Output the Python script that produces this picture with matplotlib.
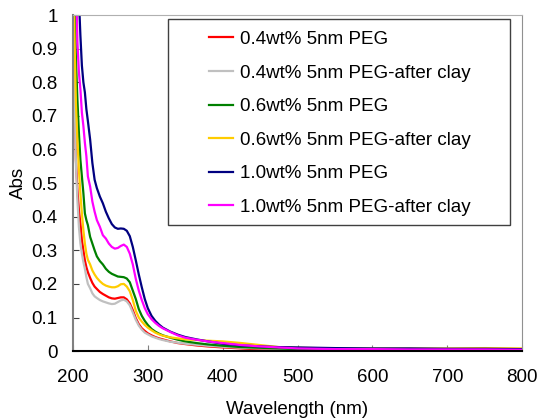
import numpy as np
import matplotlib.pyplot as plt
from matplotlib.patches import Rectangle
from matplotlib.ticker import FuncFormatter

plt.rcParams['font.family'] = ['Liberation Sans', 'DejaVu Sans']

# wavelength grid (nm)
wavelength = [200, 202, 204, 206, 208, 210, 212, 214, 216, 218, 220, 223, 226, 229,
              232, 236, 240, 244, 248, 252, 256, 260, 264, 268, 272, 276, 280, 284,
              288, 292, 296, 300, 305, 310, 315, 320, 330, 340, 350, 365, 380, 400,
              425, 450, 475, 500, 550, 600, 650, 700, 750, 800]

peg_04 = [1.3, 0.82, 0.57, 0.48, 0.42, 0.38, 0.33, 0.3, 0.27, 0.25, 0.235, 0.218,
          0.203, 0.192, 0.185, 0.176, 0.17, 0.165, 0.16, 0.157, 0.156, 0.158, 0.16,
          0.16, 0.154, 0.142, 0.122, 0.098, 0.08, 0.068, 0.06, 0.053, 0.047, 0.042,
          0.038, 0.035, 0.029, 0.024, 0.021, 0.017, 0.014, 0.011, 0.008, 0.005,
          0.004, 0.003, 0.003, 0.003, 0.003, 0.002, 0.002, 0.002]
peg_04_clay = [1.25, 0.8, 0.56, 0.45, 0.37, 0.32, 0.29, 0.265, 0.245, 0.22, 0.2,
               0.187, 0.172, 0.163, 0.158, 0.152, 0.148, 0.145, 0.142, 0.14, 0.141,
               0.146, 0.151, 0.153, 0.148, 0.136, 0.115, 0.093, 0.076, 0.064, 0.055,
               0.05, 0.044, 0.04, 0.036, 0.033, 0.028, 0.025, 0.022, 0.019, 0.016,
               0.013, 0.01, 0.008, 0.007, 0.006, 0.005, 0.005, 0.005, 0.004, 0.004,
               0.004]
peg_06 = [1.5, 1.1, 0.87, 0.75, 0.65, 0.57, 0.52, 0.47, 0.41, 0.39, 0.375, 0.34,
          0.32, 0.3, 0.282, 0.268, 0.258, 0.245, 0.236, 0.23, 0.226, 0.222, 0.221,
          0.22, 0.216, 0.205, 0.18, 0.155, 0.125, 0.105, 0.09, 0.078, 0.066, 0.058,
          0.052, 0.047, 0.04, 0.034, 0.029, 0.024, 0.02, 0.016, 0.012, 0.01, 0.008,
          0.006, 0.005, 0.005, 0.004, 0.004, 0.004, 0.004]
peg_06_clay = [1.4, 0.95, 0.74, 0.63, 0.54, 0.47, 0.41, 0.36, 0.32, 0.29, 0.272,
               0.258, 0.24, 0.228, 0.218, 0.208, 0.2, 0.195, 0.192, 0.19, 0.19, 0.193,
               0.199, 0.2, 0.192, 0.178, 0.152, 0.12, 0.1, 0.088, 0.078, 0.07, 0.062,
               0.055, 0.05, 0.046, 0.041, 0.038, 0.035, 0.033, 0.031, 0.029, 0.024,
               0.018, 0.012, 0.01, 0.008, 0.008, 0.008, 0.008, 0.009, 0.008]
peg_10 = [1.8, 1.5, 1.3, 1.15, 1.05, 0.94, 0.85, 0.8, 0.77, 0.72, 0.685, 0.63, 0.56,
          0.51, 0.485, 0.46, 0.44, 0.415, 0.395, 0.378, 0.368, 0.364, 0.365, 0.364,
          0.358, 0.342, 0.31, 0.27, 0.228, 0.19, 0.155, 0.128, 0.105, 0.09, 0.079,
          0.07, 0.058, 0.049, 0.042, 0.035, 0.029, 0.022, 0.017, 0.014, 0.012, 0.011,
          0.009, 0.008, 0.008, 0.007, 0.007, 0.006]
peg_10_clay = [1.6, 1.35, 1.15, 0.92, 0.83, 0.78, 0.71, 0.67, 0.62, 0.58, 0.52, 0.49,
               0.445, 0.415, 0.39, 0.37, 0.345, 0.335, 0.32, 0.31, 0.305, 0.307, 0.313,
               0.317, 0.31, 0.29, 0.258, 0.215, 0.18, 0.152, 0.128, 0.11, 0.095, 0.084,
               0.075, 0.068, 0.057, 0.047, 0.04, 0.034, 0.029, 0.024, 0.018, 0.014,
               0.011, 0.008, 0.006, 0.006, 0.005, 0.005, 0.005, 0.004]

labels = ["0.4wt% 5nm PEG", "0.4wt% 5nm PEG-after clay", "0.6wt% 5nm PEG",
          "0.6wt% 5nm PEG-after clay", "1.0wt% 5nm PEG", "1.0wt% 5nm PEG-after clay"]
colors = ["#FF0000", "#C0C0C0", "#008000", "#FFCC00", "#000080", "#FF00FF"]
series = [peg_04, peg_04_clay, peg_06, peg_06_clay, peg_10, peg_10_clay]

fig = plt.figure(figsize=(5.4, 4.19), dpi=100)
ax = fig.add_axes([0.135, 0.162, 0.832, 0.802])

for y, c, lab in zip(series, colors, labels):
    ax.plot(wavelength, y, color=c, lw=1.6, label=lab)

ax.set_xlim(200, 800)
ax.set_ylim(0, 1)
ax.set_xticks(np.arange(200, 801, 100))
ax.set_yticks(np.arange(0, 1.01, 0.1))
ax.yaxis.set_major_formatter(FuncFormatter(lambda v, p: "%g" % round(v, 1)))
ax.tick_params(direction='in', length=4, labelsize=13.5, color='#808080')
ax.tick_params(axis='x', pad=13)
ax.tick_params(axis='y', pad=11, color='#404040')

ax.spines['left'].set_color('#808080')
ax.spines['left'].set_linewidth(1.5)
ax.spines['bottom'].set_color('black')
ax.spines['bottom'].set_linewidth(1.5)
ax.spines['top'].set_color('#B0B0B0')
ax.spines['right'].set_color('#909090')

ax.set_xlabel("Wavelength (nm)", fontsize=13.5, labelpad=11)
ax.set_ylabel("Abs", fontsize=13.5, labelpad=3)

# legend box drawn separately to get Excel-like padding
ax.add_patch(Rectangle((0.2116, 0.375), 0.7614, 0.613, transform=ax.transAxes,
                       fill=True, facecolor='white', edgecolor='#404040', lw=1, zorder=3))
leg = ax.legend(loc='upper left', bbox_to_anchor=(0.29, 0.97), frameon=False,
                fontsize=13.5, handlelength=1.3, handletextpad=0.35,
                labelspacing=0.88, borderpad=0.3, borderaxespad=0)
leg.set_zorder(4)

fig.savefig("out.png", dpi=100)
